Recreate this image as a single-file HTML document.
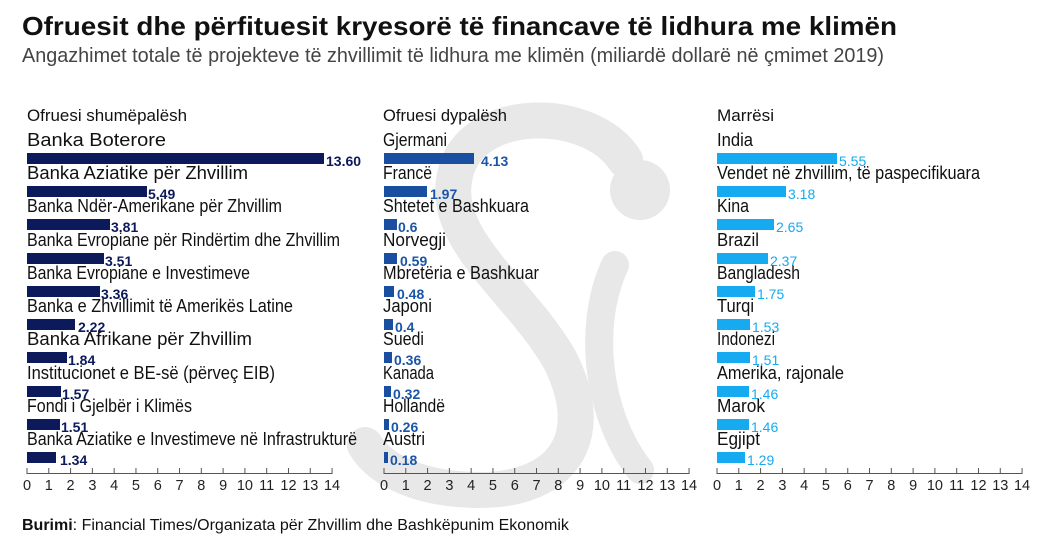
<!DOCTYPE html>
<html><head><meta charset="utf-8"><style>
html,body{margin:0;padding:0;background:#fff;}
svg{display:block;}
text{font-family:"Liberation Sans Narrow","Liberation Sans",sans-serif;}
.l{font-size:18px;fill:#111;}
.h{font-size:17px;fill:#111;}
.v1{font-size:14px;font-weight:bold;fill:#0c1a5c;}
.v2{font-size:14px;font-weight:bold;fill:#1a55a8;}
.v3{font-size:14px;fill:#16aaf0;}
.t{font-size:14.5px;fill:#222;}
</style></head><body>
<svg width="1043" height="550" xmlns="http://www.w3.org/2000/svg">
<rect width="1043" height="550" fill="#fff"/>
<!-- watermark -->
<g fill="none" stroke="#e8e8e8" stroke-linecap="round">
<path d="M625,160 C590,105 470,105 455,175 C440,240 520,290 560,360 C600,440 560,490 480,490 C420,490 380,470 365,445" stroke-width="36"/>
<path d="M615,265 C585,330 600,420 640,470" stroke-width="28"/>
</g>
<circle cx="640" cy="190" r="30" fill="#e8e8e8"/>
<text x="22" y="35" font-size="26" font-weight="bold" fill="#111" textLength="875" lengthAdjust="spacingAndGlyphs">Ofruesit dhe përfituesit kryesorë të financave të lidhura me klimën</text>
<text x="22" y="62" font-size="20" fill="#444" textLength="862" lengthAdjust="spacingAndGlyphs">Angazhimet totale të projekteve të zhvillimit të lidhura me klimën (miliardë dollarë  në çmimet 2019)</text>

<text class="h" x="27" y="121" textLength="160" lengthAdjust="spacingAndGlyphs">Ofruesi shumëpalësh</text>
<text class="h" x="383" y="121" textLength="124" lengthAdjust="spacingAndGlyphs">Ofruesi dypalësh</text>
<text class="h" x="717" y="121" textLength="57" lengthAdjust="spacingAndGlyphs">Marrësi</text>

<g id="left">
<text class="l" x="27" y="146" textLength="139" lengthAdjust="spacingAndGlyphs">Banka Boterore</text>
<rect x="27" y="153" width="297" height="11" fill="#0c1a5c"/><text class="v1" x="326" y="166">13.60</text>
<text class="l" x="27" y="179" textLength="221" lengthAdjust="spacingAndGlyphs">Banka Aziatike për Zhvillim</text>
<rect x="27" y="186" width="120" height="11" fill="#0c1a5c"/><text class="v1" x="148" y="199">5.49</text>
<text class="l" x="27" y="212" textLength="255" lengthAdjust="spacingAndGlyphs">Banka Ndër-Amerikane për Zhvillim</text>
<rect x="27" y="219" width="83" height="11" fill="#0c1a5c"/><text class="v1" x="111" y="232">3.81</text>
<text class="l" x="27" y="246" textLength="313" lengthAdjust="spacingAndGlyphs">Banka Evropiane për Rindërtim dhe Zhvillim</text>
<rect x="27" y="253" width="77" height="11" fill="#0c1a5c"/><text class="v1" x="105" y="266">3.51</text>
<text class="l" x="27" y="279" textLength="223" lengthAdjust="spacingAndGlyphs">Banka Evropiane e Investimeve</text>
<rect x="27" y="286" width="73" height="11" fill="#0c1a5c"/><text class="v1" x="101" y="299">3.36</text>
<text class="l" x="27" y="312" textLength="266" lengthAdjust="spacingAndGlyphs">Banka e Zhvillimit të Amerikës Latine</text>
<rect x="27" y="319" width="48" height="11" fill="#0c1a5c"/><text class="v1" x="78" y="332">2.22</text>
<text class="l" x="27" y="345" textLength="225" lengthAdjust="spacingAndGlyphs">Banka Afrikane për Zhvillim</text>
<rect x="27" y="352" width="40" height="11" fill="#0c1a5c"/><text class="v1" x="68" y="365">1.84</text>
<text class="l" x="27" y="379" textLength="248" lengthAdjust="spacingAndGlyphs">Institucionet e BE-së (përveç EIB)</text>
<rect x="27" y="386" width="34" height="11" fill="#0c1a5c"/><text class="v1" x="62" y="399">1.57</text>
<text class="l" x="27" y="412" textLength="165" lengthAdjust="spacingAndGlyphs">Fondi i Gjelbër i Klimës</text>
<rect x="27" y="419" width="33" height="11" fill="#0c1a5c"/><text class="v1" x="61" y="432">1.51</text>
<text class="l" x="27" y="445" textLength="330" lengthAdjust="spacingAndGlyphs">Banka Aziatike e Investimeve në Infrastrukturë</text>
<rect x="27" y="452" width="29" height="11" fill="#0c1a5c"/><text class="v1" x="60" y="465">1.34</text>
</g>

<g id="mid">
<text class="l" x="383" y="146" textLength="64" lengthAdjust="spacingAndGlyphs">Gjermani</text>
<rect x="384" y="153" width="90" height="11" fill="#1a4ea0"/><text class="v2" x="481" y="166">4.13</text>
<text class="l" x="383" y="179" textLength="49" lengthAdjust="spacingAndGlyphs">Francë</text>
<rect x="384" y="186" width="43" height="11" fill="#1a4ea0"/><text class="v2" x="430" y="199">1.97</text>
<text class="l" x="383" y="212" textLength="146" lengthAdjust="spacingAndGlyphs">Shtetet e Bashkuara</text>
<rect x="384" y="219" width="13" height="11" fill="#1a4ea0"/><text class="v2" x="398" y="232">0.6</text>
<text class="l" x="383" y="246" textLength="63" lengthAdjust="spacingAndGlyphs">Norvegji</text>
<rect x="384" y="253" width="13" height="11" fill="#1a4ea0"/><text class="v2" x="400" y="266">0.59</text>
<text class="l" x="383" y="279" textLength="156" lengthAdjust="spacingAndGlyphs">Mbretëria e Bashkuar</text>
<rect x="384" y="286" width="10" height="11" fill="#1a4ea0"/><text class="v2" x="397" y="299">0.48</text>
<text class="l" x="383" y="312" textLength="49" lengthAdjust="spacingAndGlyphs">Japoni</text>
<rect x="384" y="319" width="9" height="11" fill="#1a4ea0"/><text class="v2" x="395" y="332">0.4</text>
<text class="l" x="383" y="345" textLength="41" lengthAdjust="spacingAndGlyphs">Suedi</text>
<rect x="384" y="352" width="8" height="11" fill="#1a4ea0"/><text class="v2" x="394" y="365">0.36</text>
<text class="l" x="383" y="379" textLength="51" lengthAdjust="spacingAndGlyphs">Kanada</text>
<rect x="384" y="386" width="7" height="11" fill="#1a4ea0"/><text class="v2" x="393" y="399">0.32</text>
<text class="l" x="383" y="412" textLength="62" lengthAdjust="spacingAndGlyphs">Hollandë</text>
<rect x="384" y="419" width="5" height="11" fill="#1a4ea0"/><text class="v2" x="391" y="432">0.26</text>
<text class="l" x="383" y="445" textLength="42" lengthAdjust="spacingAndGlyphs">Austri</text>
<rect x="384" y="452" width="4" height="11" fill="#1a4ea0"/><text class="v2" x="390" y="465">0.18</text>
</g>

<g id="right">
<text class="l" x="717" y="146" textLength="36" lengthAdjust="spacingAndGlyphs">India</text>
<rect x="717" y="153" width="120" height="11" fill="#16aaf0"/><text class="v3" x="839" y="166">5.55</text>
<text class="l" x="717" y="179" textLength="263" lengthAdjust="spacingAndGlyphs">Vendet në zhvillim, të paspecifikuara</text>
<rect x="717" y="186" width="69" height="11" fill="#16aaf0"/><text class="v3" x="788" y="199">3.18</text>
<text class="l" x="717" y="212" textLength="32" lengthAdjust="spacingAndGlyphs">Kina</text>
<rect x="717" y="219" width="57" height="11" fill="#16aaf0"/><text class="v3" x="776" y="232">2.65</text>
<text class="l" x="717" y="246" textLength="42" lengthAdjust="spacingAndGlyphs">Brazil</text>
<rect x="717" y="253" width="51" height="11" fill="#16aaf0"/><text class="v3" x="770" y="266">2.37</text>
<text class="l" x="717" y="279" textLength="83" lengthAdjust="spacingAndGlyphs">Bangladesh</text>
<rect x="717" y="286" width="38" height="11" fill="#16aaf0"/><text class="v3" x="757" y="299">1.75</text>
<text class="l" x="717" y="312" textLength="37" lengthAdjust="spacingAndGlyphs">Turqi</text>
<rect x="717" y="319" width="33" height="11" fill="#16aaf0"/><text class="v3" x="752" y="332">1.53</text>
<text class="l" x="717" y="345" textLength="58" lengthAdjust="spacingAndGlyphs">Indonezi</text>
<rect x="717" y="352" width="33" height="11" fill="#16aaf0"/><text class="v3" x="752" y="365">1.51</text>
<text class="l" x="717" y="379" textLength="127" lengthAdjust="spacingAndGlyphs">Amerika, rajonale</text>
<rect x="717" y="386" width="32" height="11" fill="#16aaf0"/><text class="v3" x="751" y="399">1.46</text>
<text class="l" x="717" y="412" textLength="48" lengthAdjust="spacingAndGlyphs">Marok</text>
<rect x="717" y="419" width="32" height="11" fill="#16aaf0"/><text class="v3" x="751" y="432">1.46</text>
<text class="l" x="717" y="445" textLength="43" lengthAdjust="spacingAndGlyphs">Egjipt</text>
<rect x="717" y="452" width="28" height="11" fill="#16aaf0"/><text class="v3" x="747" y="465">1.29</text>
</g>

<g id="axes" stroke="#555" stroke-width="1">
<line x1="27" y1="473.5" x2="332" y2="473.5"/>
<line x1="384" y1="473.5" x2="689" y2="473.5"/>
<line x1="717" y1="473.5" x2="1022" y2="473.5"/>
</g>
<g id="ticks" stroke="#555" stroke-width="1"></g>
<g id="tl" class="t"></g>

<text x="22" y="530" font-size="16" fill="#111"><tspan font-weight="bold">Burimi</tspan>: Financial Times/Organizata për Zhvillim dhe Bashkëpunim Ekonomik</text>

<script>
(function(){
 var ns="http://www.w3.org/2000/svg",tk=document.getElementById("ticks"),tl=document.getElementById("tl");
 [27,384,717].forEach(function(x0){
  for(var i=0;i<=14;i++){
   var x=x0+i*21.79;
   var l=document.createElementNS(ns,"line");
   l.setAttribute("x1",x);l.setAttribute("x2",x);l.setAttribute("y1",468);l.setAttribute("y2",474);
   tk.appendChild(l);
   var t=document.createElementNS(ns,"text");
   t.setAttribute("x",x);t.setAttribute("y",490);t.setAttribute("text-anchor","middle");
   t.setAttribute("class","t");t.textContent=i;tl.appendChild(t);
  }
 });
})();
</script>
</svg>
</body></html>
